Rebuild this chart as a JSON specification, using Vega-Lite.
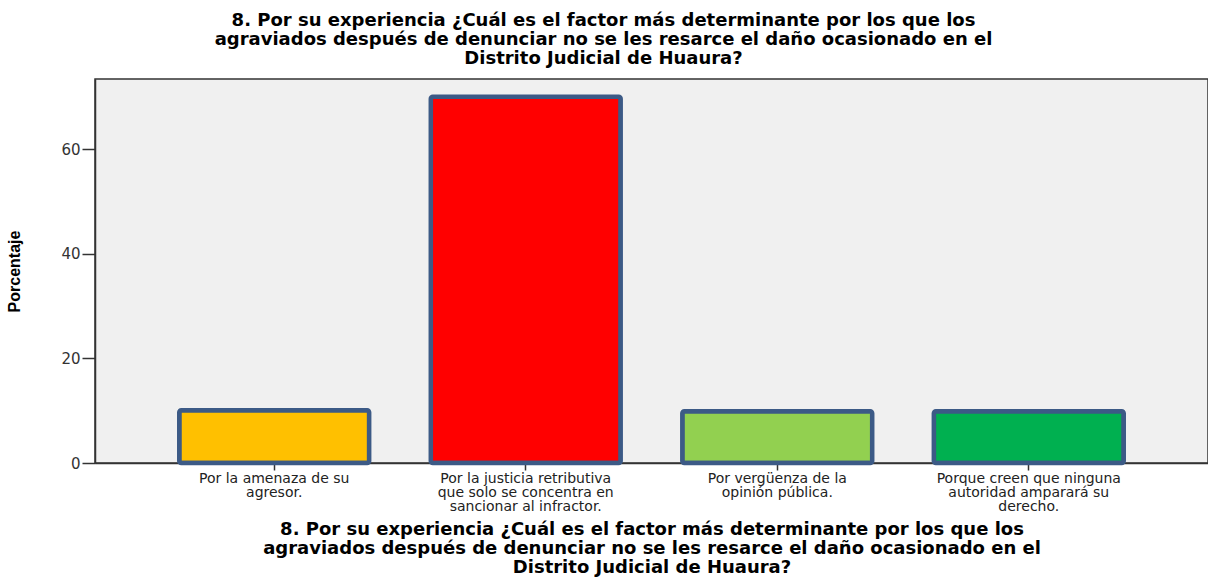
{
  "$schema": "https://vega.github.io/schema/vega-lite/v6.json",
  "autosize": "none",
  "width": 1113,
  "height": 384,
  "padding": {"left": 95, "top": 79, "right": 0, "bottom": 114},
  "background": "white",
  "title": {
    "text": ["8. Por su experiencia ¿Cuál es el factor más determinante por los que los", "agraviados después de denunciar no se les resarce el daño ocasionado en el", "Distrito Judicial de Huaura?"],
    "font": "DejaVu Sans",
    "fontSize": 18,
    "fontWeight": "bold",
    "lineHeight": 19,
    "color": "black",
    "anchor": "middle",
    "dx": -48,
    "offset": 11
  },
  "data": {
    "values": [
      {"factor": "Por la amenaza de su agresor.", "porcentaje": 10.1},
      {"factor": "Por la justicia retributiva que solo se concentra en sancionar al infractor.", "porcentaje": 70.0},
      {"factor": "Por vergüenza de la opinión pública.", "porcentaje": 9.9},
      {"factor": "Porque creen que ninguna autoridad amparará su derecho.", "porcentaje": 9.9}
    ]
  },
  "config": {
    "view": {"fill": "#F0F0F0", "stroke": "#333333", "strokeWidth": 1.5}
  },
  "mark": {"type": "bar", "stroke": "#3C5A86", "strokeWidth": 4.5, "cornerRadius": 2},
  "encoding": {
    "x": {
      "field": "factor",
      "type": "nominal",
      "sort": null,
      "scale": {"paddingInner": 0.245, "paddingOuter": 0.335},
      "axis": {
        "title": ["8. Por su experiencia ¿Cuál es el factor más determinante por los que los", "agraviados después de denunciar no se les resarce el daño ocasionado en el", "Distrito Judicial de Huaura?"],
        "titleFont": "DejaVu Sans",
        "titleFontSize": 18,
        "titleFontWeight": "bold",
        "titleLineHeight": 19,
        "titleColor": "black",
        "titlePadding": 7,
        "labelAngle": 0,
        "labelFont": "DejaVu Sans",
        "labelFontSize": 14,
        "labelLineHeight": 14,
        "labelLimit": 0,
        "labelColor": "#222222",
        "labelPadding": 1,
        "labelExpr": "datum.value == 'Por la amenaza de su agresor.' ? ['Por la amenaza de su', 'agresor.'] : datum.value == 'Por vergüenza de la opinión pública.' ? ['Por vergüenza de la', 'opinión pública.'] : datum.value == 'Porque creen que ninguna autoridad amparará su derecho.' ? ['Porque creen que ninguna', 'autoridad amparará su', 'derecho.'] : ['Por la justicia retributiva', 'que solo se concentra en', 'sancionar al infractor.']",
        "domainColor": "#333333",
        "domainWidth": 1.5,
        "tickColor": "#333333",
        "tickSize": 7,
        "tickWidth": 1.5
      }
    },
    "y": {
      "field": "porcentaje",
      "type": "quantitative",
      "scale": {"domain": [0, 73.4], "nice": false},
      "axis": {
        "title": "Porcentaje",
        "titleFont": "Liberation Sans",
        "titleFontSize": 16,
        "titleFontWeight": "bold",
        "titleColor": "black",
        "titleX": -73,
        "titleY": 192,
        "values": [0, 20, 40, 60],
        "grid": false,
        "labelFont": "DejaVu Sans",
        "labelFontSize": 15,
        "labelColor": "#333333",
        "labelPadding": 2,
        "domainColor": "#333333",
        "domainWidth": 1.5,
        "tickColor": "#333333",
        "tickSize": 13,
        "tickWidth": 1.5
      }
    },
    "fill": {
      "field": "factor",
      "type": "nominal",
      "sort": null,
      "scale": {"range": ["#FFC000", "#FF0000", "#92D050", "#00B050"]},
      "legend": null
    }
  }
}
